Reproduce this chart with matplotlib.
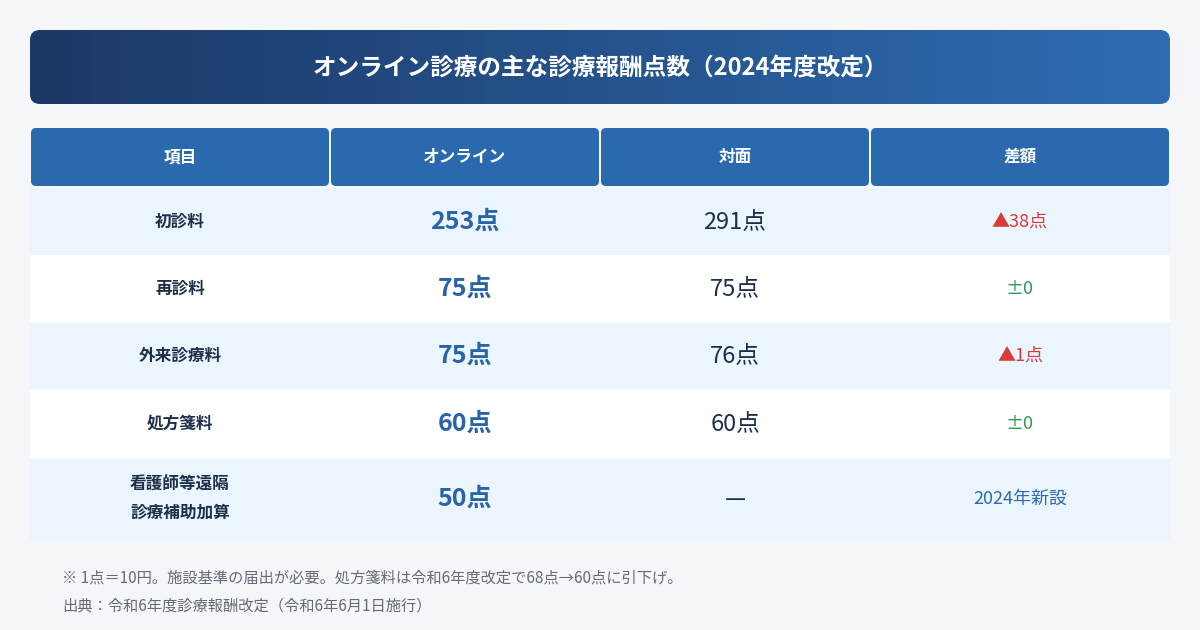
import matplotlib.pyplot as plt
import numpy as np
from matplotlib.patches import FancyBboxPatch, Rectangle

plt.rcParams['font.family'] = ['Noto Sans CJK JP', 'DejaVu Sans']

title = 'オンライン診療の主な診療報酬点数（2024年度改定）'
headers = ['項目', 'オンライン', '対面', '差額']
items = ['初診料', '再診料', '外来診療料', '処方箋料', '看護師等遠隔\n診療補助加算']
online = ['253点', '75点', '75点', '60点', '50点']
face = ['291点', '75点', '76点', '60点', '—']
diff = ['▲38点', '±0', '▲1点', '±0', '2024年新設']
diff_colors = ['#d93a3a', '#2e9a55', '#d93a3a', '#2e9a55', '#2d6cb0']
notes = ['※ 1点＝10円。施設基準の届出が必要。処方箋料は令和6年度改定で68点→60点に引下げ。',
         '出典：令和6年度診療報酬改定（令和6年6月1日施行）']

W, H = 1200, 630
fig = plt.figure(figsize=(W / 100, H / 100), dpi=100)
fig.patch.set_facecolor('#f4f6f9')
ax = fig.add_axes([0, 0, 1, 1])
ax.set_xlim(0, W)
ax.set_ylim(H, 0)
ax.axis('off')

# title bar with gradient
grad = np.linspace(0, 1, 256).reshape(1, -1)
from matplotlib.colors import LinearSegmentedColormap
cmap = LinearSegmentedColormap.from_list('t', ['#1b3866', '#2f6db3'])
box = FancyBboxPatch((30, 30), 1140, 74, boxstyle='round,pad=0,rounding_size=10',
                     fc='none', ec='none')
ax.add_patch(box)
im = ax.imshow(grad, cmap=cmap, extent=(30, 1170, 104, 30), aspect='auto')
im.set_clip_path(box)
ax.text(600, 68, title, ha='center', va='center', color='white', fontsize=17, fontweight='bold')

cols = [30, 330, 600, 870, 1170]
# header cells
hcmap = LinearSegmentedColormap.from_list('h', ['#2a67ad', '#2f6fb6'])
for i, h in enumerate(headers):
    x0, x1 = cols[i] + 1, cols[i + 1] - 1
    b = FancyBboxPatch((x0, 128), x1 - x0, 58, boxstyle='round,pad=0,rounding_size=5',
                       fc='#2b69af', ec='none')
    ax.add_patch(b)
    ax.text((x0 + x1) / 2, 157, h, ha='center', va='center', color='white',
            fontsize=12, fontweight='bold')

row_y = [188, 255, 322, 390, 458, 540]
for r in range(len(items)):
    y0, y1 = row_y[r], row_y[r + 1]
    fc = '#eaf5fd' if r % 2 == 0 else 'white'
    ax.add_patch(Rectangle((30, y0), 1140, y1 - y0, fc=fc, ec='none'))
    yc = (y0 + y1) / 2
    ax.text(180, yc, items[r], ha='center', va='center', color='#1e2f4a',
            fontsize=12, fontweight='bold', linespacing=1.7)
    ax.text(465, yc, online[r], ha='center', va='center', color='#2a64a8',
            fontsize=18, fontweight='bold')
    ax.text(735, yc, face[r], ha='center', va='center', color='#1e2f4a', fontsize=17)
    ax.text(1020, yc, diff[r], ha='center', va='center', color=diff_colors[r], fontsize=13)

ax.text(62, 578, notes[0], ha='left', va='center', color='#666c75', fontsize=11)
ax.text(62, 606, notes[1], ha='left', va='center', color='#666c75', fontsize=11)

fig.savefig('out.png', dpi=100, facecolor=fig.get_facecolor())
